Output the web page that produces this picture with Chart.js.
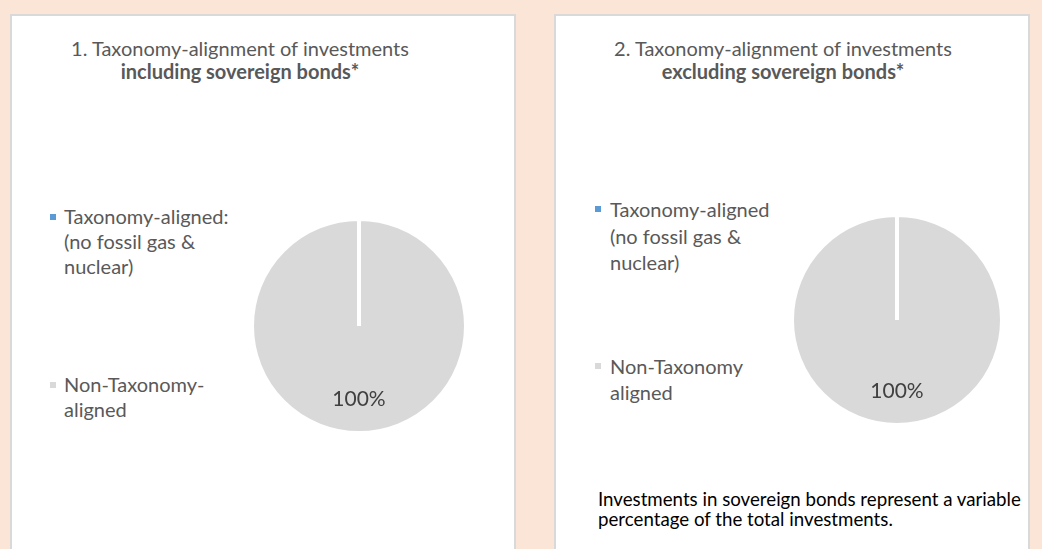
<!DOCTYPE html>
<html>
<head>
<meta charset="utf-8">
<script src="https://cdn.jsdelivr.net/npm/chart.js@4.4.0/dist/chart.umd.min.js"></script>
<style>
  html, body { margin: 0; padding: 0; }
  body {
    width: 1042px; height: 549px; overflow: hidden; position: relative;
    background: #fbe5d6; font-family: Lato, sans-serif; color: #595959;
  }
  .panel {
    position: absolute; top: 14px; height: 560px; box-sizing: border-box;
    background: #fff; border: 2px solid #d9d9d9;
  }
  .title {
    position: absolute; top: 37px; width: 500px; text-align: center;
    font-size: 20px; line-height: 23px; white-space: nowrap;
  }
  .title b { font-weight: bold; }
  .pie-box { position: absolute; width: 240px; height: 240px; }
  .legend { position: absolute; }
  .legend-item { position: relative; white-space: pre-line; font-size: 20px; }
  .legend-item .swatch { position: absolute; width: 6px; height: 6px; }
  .note {
    position: absolute; left: 598px; top: 489px; width: 430px;
    font-size: 18.7px; line-height: 20px; color: #000;
  }
</style>
</head>
<body>
<div class="panel" style="left:10px;width:506px"></div>
<div class="panel" style="left:554px;width:476px"></div>

<div class="title" style="left:-10px">1. Taxonomy-alignment of investments<br><b>including sovereign bonds*</b></div>
<div class="title" style="left:533px">2. Taxonomy-alignment of investments<br><b>excluding sovereign bonds*</b></div>

<div class="legend" id="legendIncl" style="left:50px;top:204px"></div>
<div class="legend" id="legendExcl" style="left:595px;top:196px"></div>

<div class="pie-box" style="left:239px;top:206px"><canvas id="pieIncl"></canvas></div>
<div class="pie-box" style="left:777px;top:200px"><canvas id="pieExcl"></canvas></div>

<div class="note">Investments in sovereign bonds represent a variable percentage of the total investments.</div>

<script>
// data
const labelsIncluding = [['Taxonomy-aligned:', '(no fossil gas &', 'nuclear)'], ['Non-Taxonomy-', 'aligned']];
const labelsExcluding = [['Taxonomy-aligned', '(no fossil gas &', 'nuclear)'], ['Non-Taxonomy', 'aligned']];
const valuesIncluding = [0, 100];
const valuesExcluding = [0, 100];
const sliceColors = ['#5b9bd5', '#d9d9d9'];

// percentage inside each non-empty slice
const sliceLabels = {
  id: 'sliceLabels',
  afterDatasetsDraw(chart) {
    const { ctx } = chart;
    const values = chart.data.datasets[0].data;
    ctx.save();
    ctx.font = '21px Lato';
    ctx.fillStyle = '#404040';
    ctx.textAlign = 'center';
    ctx.textBaseline = 'middle';
    chart.getDatasetMeta(0).data.forEach((arc, i) => {
      if (!values[i]) return;
      const { x, y, startAngle, endAngle, outerRadius } =
        arc.getProps(['x', 'y', 'startAngle', 'endAngle', 'outerRadius'], true);
      const mid = (startAngle + endAngle) / 2;
      const r = outerRadius * 0.68;
      ctx.fillText(values[i] + '%', x + Math.cos(mid) * r, y + Math.sin(mid) * r);
    });
    ctx.restore();
  },
};

// legend as html, built from the chart's own legend items
const htmlLegend = {
  id: 'htmlLegend',
  afterUpdate(chart, args, opts) {
    const box = document.getElementById(opts.containerID);
    box.innerHTML = '';
    const items = chart.options.plugins.legend.labels.generateLabels(chart);
    items.forEach((item, i) => {
      const row = document.createElement('div');
      row.className = 'legend-item';
      row.style.paddingLeft = opts.textIndent + 'px';
      row.style.lineHeight = opts.lineHeight + 'px';
      if (i > 0) row.style.marginTop = opts.gap + 'px';
      const swatch = document.createElement('span');
      swatch.className = 'swatch';
      swatch.style.left = '0px';
      swatch.style.top = (opts.lineHeight / 2 - 3) + 'px';
      swatch.style.background = item.fillStyle;
      row.appendChild(swatch);
      row.appendChild(document.createTextNode([].concat(item.text).join('\n')));
      box.appendChild(row);
    });
  },
};

function makePie(id, labels, values, cfg) {
  return new Chart(document.getElementById(id), {
    type: 'pie',
    data: {
      labels,
      datasets: [{
        data: values,
        backgroundColor: sliceColors,
        borderColor: '#ffffff',
        borderWidth: 4,
        radius: cfg.radius,
      }],
    },
    options: {
      responsive: true,
      maintainAspectRatio: false,
      animation: false,
      layout: { padding: 0 },
      plugins: {
        legend: { display: false },
        tooltip: { enabled: false },
        htmlLegend: cfg.legend,
      },
    },
    plugins: [sliceLabels, htmlLegend],
  });
}

makePie('pieIncl', labelsIncluding, valuesIncluding, {
  radius: 107,
  legend: { containerID: 'legendIncl', lineHeight: 25, gap: 93, textIndent: 14 },
});
makePie('pieExcl', labelsExcluding, valuesExcluding, {
  radius: 105,
  legend: { containerID: 'legendExcl', lineHeight: 26.5, gap: 77, textIndent: 15 },
});
</script>
</body>
</html>
